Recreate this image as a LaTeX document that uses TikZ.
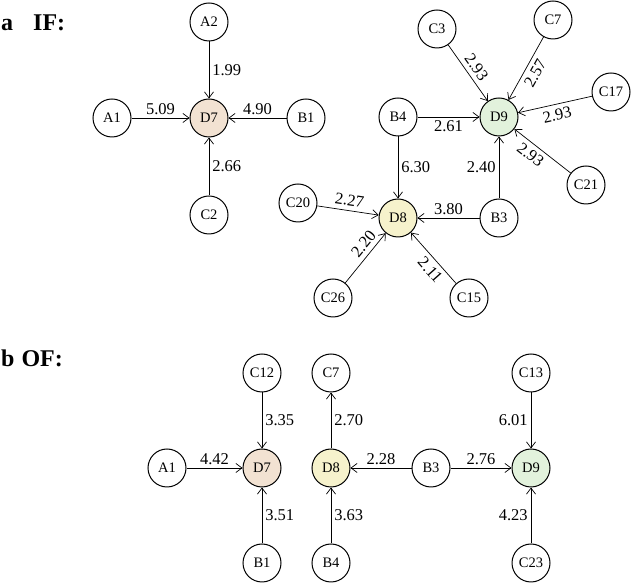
\documentclass[tikz,border=0pt]{standalone}
\usepackage{fontspec}
\setmainfont{Liberation Serif}
\usetikzlibrary{positioning,arrows.meta}
\tikzset{>={Straight Barb[length=6pt,width=9pt]}}
\definecolor{fillD7}{HTML}{F2E2D2}
\definecolor{fillD8}{HTML}{F6F2CC}
\definecolor{fillD9}{HTML}{E2F2DC}
\tikzset{
  knoten/.style={draw, circle, line width=1pt, minimum size=38pt, inner sep=0pt, font=\fontsize{14.5}{16}\selectfont},
  pfeil/.style={->, line width=0.7pt},
  wert/.style={font=\fontsize{16.5}{18}\selectfont, inner sep=3pt},
  schraeg/.style={sloped, inner sep=4.5pt},
  titel/.style={font=\fontsize{24}{26}\selectfont\bfseries, anchor=west, inner sep=0pt}
}

\begin{document}
\begin{tikzpicture}[x=1pt,y=1pt]
      \useasboundingbox (0,0) rectangle (633,584);
      \node[titel] (tIF) at (1,561) {a\hspace{20pt}IF:};
      \node[titel] (tOF) at (1,226) {b\hspace{7pt}OF:};
      % IF
      \node[knoten, fill=fillD7] (aD7) at (209,466) {D7};
      \node[knoten, left of=aD7, node distance=97pt] (aA1) {A1};
      \node[knoten, right of=aD7, node distance=97pt] (aB1) {B1};
      \node[knoten, above of=aD7, node distance=96pt] (aA2) {A2};
      \node[knoten, below of=aD7, node distance=97pt] (aC2) {C2};
      \node[knoten, fill=fillD9] (aD9) at (499,467) {D9};
      \node[knoten, left of=aD9, node distance=101pt] (aB4) {B4};
      \node[knoten, below of=aD9, node distance=101pt] (aB3) {B3};
      \node[knoten, below of=aB4, node distance=101pt, fill=fillD8] (aD8) {D8};
      \node[knoten] (aC3) at (437,555) {C3};
      \node[knoten] (aC7) at (553,564) {C7};
      \node[knoten] (aC17) at (611,492) {C17};
      \node[knoten] (aC21) at (586,399) {C21};
      \node[knoten] (aC20) at (298,381) {C20};
      \node[knoten] (aC26) at (333,286) {C26};
      \node[knoten] (aC15) at (469,286) {C15};
      \draw[pfeil] (aA2) -- node[wert, right]{1.99} (aD7);
      \draw[pfeil] (aA1) -- node[wert, above]{5.09} (aD7);
      \draw[pfeil] (aB1) -- node[wert, above]{4.90} (aD7);
      \draw[pfeil] (aC2) -- node[wert, right]{2.66} (aD7);
      \draw[pfeil] (aC3) -- node[wert, schraeg, above]{2.93} (aD9);
      \draw[pfeil] (aC7) -- node[wert, schraeg, below]{2.57} (aD9);
      \draw[pfeil] (aC17) -- node[wert, schraeg, below]{2.93} (aD9);
      \draw[pfeil] (aC21) -- node[wert, schraeg, below, pos=0.6]{2.93} (aD9);
      \draw[pfeil] (aB4) -- node[wert, below]{2.61} (aD9);
      \draw[pfeil] (aB3) -- node[wert, left]{2.40} (aD9);
      \draw[pfeil] (aB4) -- node[wert, right]{6.30} (aD8);
      \draw[pfeil] (aB3) -- node[wert, above]{3.80} (aD8);
      \draw[pfeil] (aC20) -- node[wert, schraeg, above]{2.27} (aD8);
      \draw[pfeil] (aC26) -- node[wert, schraeg, above, pos=0.65]{2.20} (aD8);
      \draw[pfeil] (aC15) -- node[wert, schraeg, below, pos=0.4]{2.11} (aD8);
      % OF
      \node[knoten, fill=fillD7] (bD7) at (262,116) {D7};
      \node[knoten, left of=bD7, node distance=95pt] (bA1) {A1};
      \node[knoten, above of=bD7, node distance=95pt] (bC12) {C12};
      \node[knoten, below of=bD7, node distance=95pt] (bB1) {B1};
      \node[knoten, right of=bD7, node distance=69pt, fill=fillD8] (bD8) {D8};
      \node[knoten, above of=bD8, node distance=95pt] (bC7) {C7};
      \node[knoten, below of=bD8, node distance=95pt] (bB4) {B4};
      \node[knoten, right of=bD8, node distance=100pt] (bB3) {B3};
      \node[knoten, right of=bB3, node distance=100pt, fill=fillD9] (bD9) {D9};
      \node[knoten, above of=bD9, node distance=95pt] (bC13) {C13};
      \node[knoten, below of=bD9, node distance=95pt] (bC23) {C23};
      \draw[pfeil] (bC12) -- node[wert, right]{3.35} (bD7);
      \draw[pfeil] (bA1) -- node[wert, above]{4.42} (bD7);
      \draw[pfeil] (bB1) -- node[wert, right]{3.51} (bD7);
      \draw[pfeil] (bD8) -- node[wert, right]{2.70} (bC7);
      \draw[pfeil] (bB4) -- node[wert, right]{3.63} (bD8);
      \draw[pfeil] (bB3) -- node[wert, above]{2.28} (bD8);
      \draw[pfeil] (bB3) -- node[wert, above]{2.76} (bD9);
      \draw[pfeil] (bC13) -- node[wert, left]{6.01} (bD9);
      \draw[pfeil] (bC23) -- node[wert, left]{4.23} (bD9);
\end{tikzpicture}
\end{document}
